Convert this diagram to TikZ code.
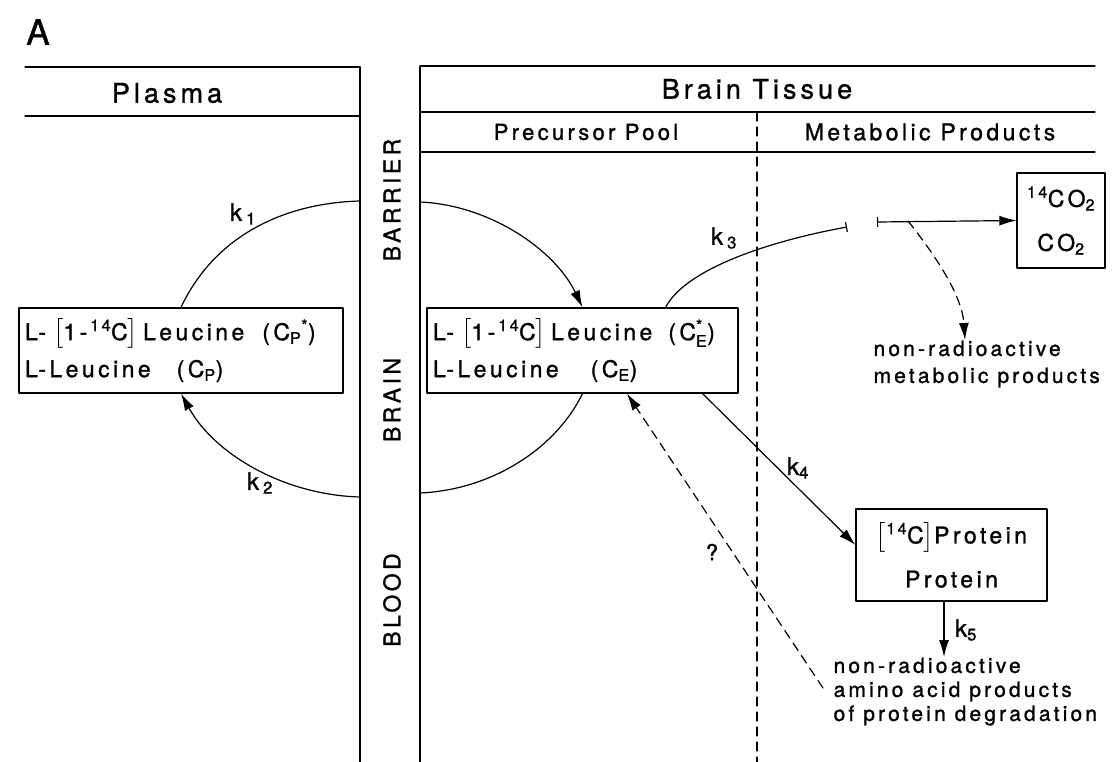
\documentclass[tikz,border=0pt]{standalone}
\usepackage{amsmath}
\usepackage{fontspec}
\setmainfont{TeX Gyre Heros}[LetterSpace=15, FakeBold=1.2]
\usetikzlibrary{arrows.meta}

\newcommand{\marked}[1]{$\left[\mbox{#1}\right]$}

\begin{document}
\begin{tikzpicture}[x=1pt, y=-1pt, line width=1.2pt, line cap=round, line join=round,
  pool/.style={draw, align=left, inner xsep=6pt, inner ysep=0pt, minimum height=85pt,
    font=\fontsize{23}{37}\selectfont},
  product/.style={draw, align=center, inner sep=0pt, font=\fontsize{23}{44}\selectfont},
  flow/.style={-{Latex[length=17pt,width=10pt]}},
  guess/.style={dash pattern=on 9pt off 6pt},
  head/.style={font=\fontsize{27}{30}\selectfont},
  colhead/.style={font=\fontsize{22}{24}\selectfont},
  wall/.style={rotate=90, font=\fontsize{23}{24}\selectfont},
  rate/.style={font=\fontsize{24}{24}\selectfont},
  note/.style={align=left, inner sep=0pt, anchor=north west}]
  \useasboundingbox (0,0) rectangle (1119,762);
  % panel letter
  \node[font=\fontsize{35}{35}\selectfont] (panel) at (38,32) {A};
  % headings
  \draw (25,67) -- (360,67);
  \draw (25,116) -- (360,116);
  \draw (420,66) -- (1095,66);
  \draw (420,112) -- (1095,112);
  \draw (420,152) -- (1095,152);
  \node[head] (plasma) at (167,93) {Plasma};
  \node[head] (tissue) at (757,89) {Brain Tissue};
  \node[colhead] (precursor) at (586,132) {Precursor Pool};
  \node[colhead, font=\fontsize{23}{24}\selectfont] (metabolic) at (930,132) {Metabolic Products};
  % barrier
  \draw (360,67) -- (360,762);
  \draw (420,66) -- (420,762);
  \draw[guess] (757,112) -- (757,762);
  \node[wall] (barrier) at (392,200) {BARRIER};
  \node[wall] (brain) at (392,400) {BRAIN};
  \node[wall] (blood) at (392,600) {BLOOD};
  % pools
  \node[pool, text width=312pt] (cp) at (181,350.5)
    {L-\hspace{7pt}\marked{1-\hspace{3pt}\textsuperscript{14}C}\hspace{5pt}Leucine\hspace{18pt}(C$_{\text{P}}$$^{\text{*}}$)\\
     L-Leucine\hspace{26pt}(C$_{\text{P}}$)};
  \node[pool, text width=299pt] (ce) at (582.5,350.5)
    {L-\hspace{7pt}\marked{1-\hspace{3pt}\textsuperscript{14}C}\hspace{5pt}Leucine\hspace{16pt}(C$_{\text{E}}^{\text{*}}$)\\
     L-Leucine\hspace{32pt}(C$_{\text{E}}$)};
  \node[product, minimum width=88pt, minimum height=95pt] (co2) at (1061,220.5)
    {\textsuperscript{14}CO\textsubscript{2}\\CO\textsubscript{2}};
  \node[product, minimum width=191pt, minimum height=92pt] (prot) at (951.5,555)
    {\marked{\textsuperscript{14}C}Protein\\Protein};
  \node[note, font=\fontsize{21}{27}\selectfont] (metab) at (873,340)
    {non-radioactive\\metabolic products};
  \node[note, font=\fontsize{21}{24}\selectfont] (degr) at (833,657)
    {non-radioactive\\amino acid products\\of protein degradation};
  % transport across the barrier
  \coordinate (w1) at (360,201);
  \coordinate (w2) at (360,497);
  \coordinate (w3) at (420,202);
  \coordinate (w4) at (420,493);
  \draw (cp.north) .. controls (215,235) and (285,203) .. (w1);
  \draw[flow] (w2) .. controls (285,495) and (215,455) .. (cp.south);
  \draw[flow] (w3) .. controls (490,205) and (555,250) .. (ce.north);
  \draw (ce.south) .. controls (555,450) and (490,490) .. (w4);
  \node[rate] (k1) at (243,214) {k\,\textsubscript{1}};
  \node[rate] (k2) at (260,483) {k\,\textsubscript{2}};
  % metabolism
  \coordinate (cut1) at (847,227);
  \coordinate (cut2) at (877,222);
  \coordinate (fork) at (908,221);
  \draw[-{Bar[width=10pt]}] ([xshift=-73pt]ce.north east) .. controls (685,270) and (765,242) .. (cut1);
  \draw[{Bar[width=10pt]}-{Latex[length=17pt,width=10pt]}] (cut2) -- (co2.west);
  \draw[guess, flow] (fork) .. controls (935,255) and (962,295) .. (metab.north -| 965,0);
  \node[rate] (k3) at (724,238) {k\,\textsubscript{3}};
  % protein
  \draw[flow] ([xshift=-36pt]ce.south east) -- ([yshift=10pt]prot.west);
  \draw[flow] (prot.south -| 944,0) -- (degr.north -| 944,0);
  \node[rate] (k4) at (798,468) {k\textsubscript{4}};
  \node[rate] (k5) at (966,630) {k\textsubscript{5}};
  % back to the pool
  \coordinate (back) at (823,688);
  \draw[guess, flow] (back) -- ([xshift=44.5pt]ce.south);
  \node[font=\fontsize{22}{24}\selectfont] (unsure) at (712,552) {?};
\end{tikzpicture}
\end{document}
